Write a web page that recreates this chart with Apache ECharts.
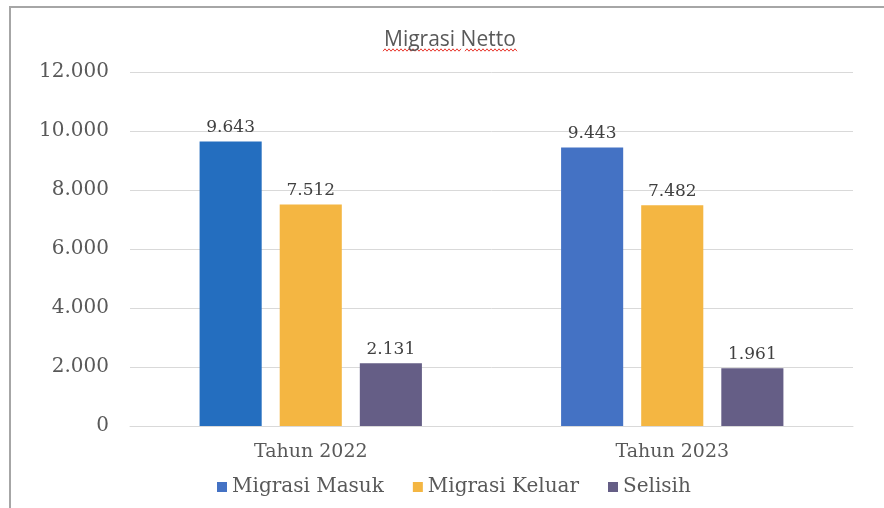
<!DOCTYPE html>
<html>
<head>
<meta charset="utf-8">
<script src="https://cdn.jsdelivr.net/npm/echarts@6/dist/echarts.min.js"></script>
<style>
  html, body { margin: 0; padding: 0; background: #fff; }
  #chart { width: 884px; height: 508px; }
</style>
</head>
<body>
<div id="chart"></div>
<script>
// kategori dan data
const years = ['Tahun 2022', 'Tahun 2023'];
const masuk = [9643, 9443];
const keluar = [7512, 7482];
const selisih = [2131, 1961];
const yTicks = [0, 2000, 4000, 6000, 8000, 10000, 12000];

// warna batang (batang 2022 sedikit lebih gelap)
const masukColors = ['#246ebf', '#4472c4'];

const serif = 'DejaVu Serif';
const fmt = v => String(v).replace(/\B(?=(\d{3})+(?!\d))/g, '.');

const label = {
  show: true,
  position: 'top',
  distance: 5,
  fontFamily: serif,
  fontSize: 17,
  color: '#404040',
  formatter: p => fmt(p.value)
};

// garis bergelombang merah (tanda ejaan) di bawah judul
function squiggle(x0, x1, y) {
  const pts = [];
  for (let x = x0, k = 0; x <= x1; x += 2, k++) pts.push([x, y + (k % 2 ? -1.2 : 1.2)]);
  return {
    type: 'polyline', silent: true,
    shape: { points: pts },
    style: { stroke: '#e8392f', lineWidth: 1, fill: 'none' }
  };
}

const chart = echarts.init(document.getElementById('chart'));
chart.setOption({
  animation: false,
  backgroundColor: '#fff',
  title: {
    text: 'Migrasi Netto',
    left: 379,
    top: 25,
    textStyle: { fontFamily: 'Open Sans', fontSize: 21, fontWeight: 'normal', color: '#595959' }
  },
  graphic: [
    // bingkai kiri & atas
    {
      type: 'rect', silent: true,
      shape: { x: 10, y: 7, width: 900, height: 520 },
      style: { fill: 'none', stroke: '#a6a6a6', lineWidth: 2 }
    },
    squiggle(383, 461, 50),
    squiggle(465, 517, 50)
  ],
  legend: {
    bottom: 6,
    left: 212,
    icon: 'rect',
    itemWidth: 10,
    itemHeight: 10,
    itemGap: 29,
    textStyle: { fontFamily: serif, fontSize: 20, color: '#595959' },
    data: [
      { name: 'Migrasi Masuk', itemStyle: { color: '#4472c4' } },
      'Migrasi Keluar',
      'Selisih'
    ]
  },
  grid: { left: 130, right: 31, top: 72, bottom: 82 },
  xAxis: {
    type: 'category',
    data: years,
    axisLine: { lineStyle: { color: '#d9d9d9' } },
    axisTick: { show: false },
    axisLabel: { fontFamily: serif, fontSize: 19, color: '#595959', margin: 17 }
  },
  yAxis: {
    type: 'value',
    min: yTicks[0],
    max: yTicks[yTicks.length - 1],
    interval: 2000,
    splitLine: { lineStyle: { color: '#d9d9d9' } },
    axisLabel: { fontFamily: serif, fontSize: 20, color: '#595959', margin: 21, formatter: fmt }
  },
  series: [
    {
      name: 'Migrasi Masuk', type: 'bar',
      data: masuk.map((v, i) => ({ value: v, itemStyle: { color: masukColors[i] } })),
      itemStyle: { color: '#4472c4' },
      barGap: '29%', barCategoryGap: '38.5%',
      label
    },
    {
      name: 'Migrasi Keluar', type: 'bar',
      data: keluar,
      itemStyle: { color: '#f4b642' },
      label
    },
    {
      name: 'Selisih', type: 'bar',
      data: selisih,
      itemStyle: { color: '#655e86' },
      label
    }
  ]
});
</script>
</body>
</html>
